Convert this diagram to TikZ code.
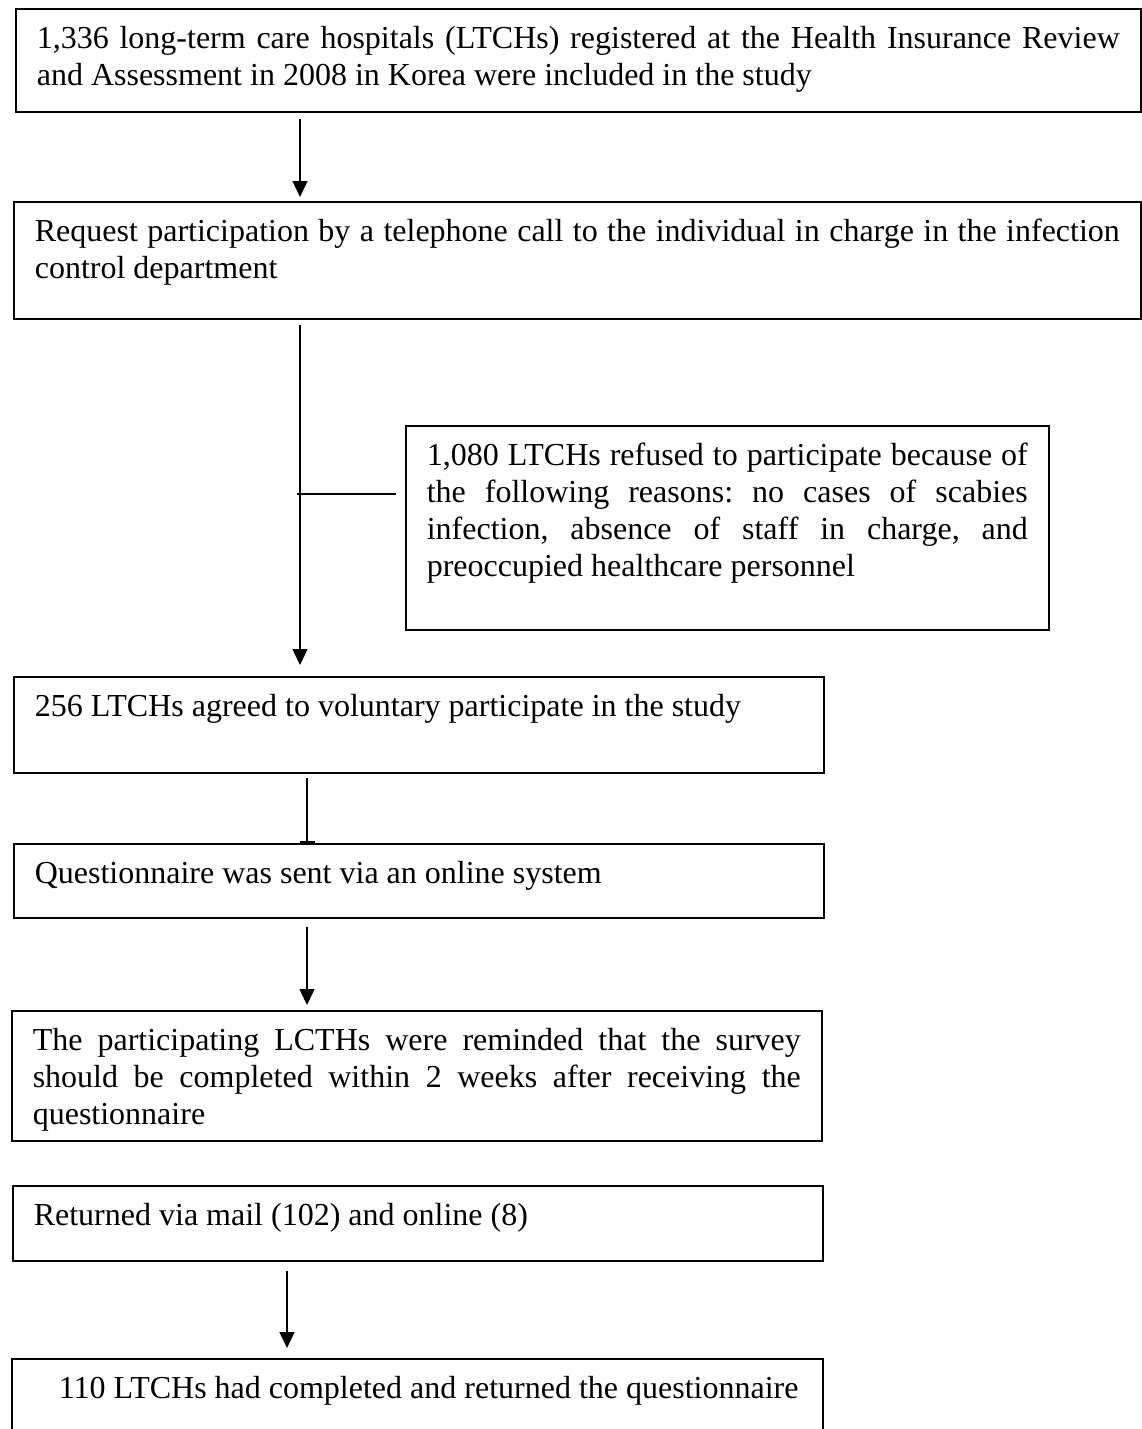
\documentclass[tikz,border=0pt]{standalone}
\usepackage{fontspec}
\setmainfont{Liberation Serif}
\usetikzlibrary{arrows.meta,positioning}

\begin{document}
\frenchspacing
\begin{tikzpicture}[x=1pt,y=-1pt,
  font=\fontsize{32}{37}\selectfont,>={Triangle[width=15pt,length=16pt]},
  stage/.style={draw,line width=1.6pt,anchor=north west,inner xsep=21pt,inner ysep=0pt,align=justify,text height=40pt},
  flow/.style={->,line width=1.4pt},
  link/.style={line width=1.4pt}
]
\clip (0,0) rectangle (1142,1429);

% ---- boxes ----
\node[stage,text width=1083pt,text depth=63pt] (hosp) at (15,8)
  {1,336 long-term care hospitals (LTCHs) registered at the Health Insurance Review\linebreak
   and Assessment in 2008 in Korea were included in the study};
\node[stage,text width=1085pt,text depth=77pt] (call) at (13,201)
  {Request participation by a telephone call to the individual in charge in the infection\linebreak
   control department};
\node[stage,text width=601pt,text depth=164pt] (refuse) at (405,425)
  {1,080 LTCHs refused to participate because of\linebreak
   the following reasons: no cases of scabies\linebreak
   infection, absence of staff in charge, and\linebreak
   preoccupied healthcare personnel};
\node[stage,text width=768pt,text depth=56pt] (agree) at (13,676)
  {256 LTCHs agreed to voluntary participate in the study};
\node[stage,text width=768pt,text depth=34pt] (sent) at (13,843)
  {Questionnaire was sent via an online system};
\node[stage,text width=768pt,text depth=90pt] (remind) at (11,1010)
  {The participating LCTHs were reminded that the survey\linebreak
   should be completed within 2 weeks after receiving the\linebreak
   questionnaire};
\node[stage,text width=768pt,text depth=35pt] (ret) at (12,1185)
  {Returned via mail (102) and online (8)};
\node[stage,text width=769pt,text depth=100pt] (done) at (11,1358)
  {\hspace*{26pt}110 LTCHs had completed and returned the questionnaire};

% ---- arrow columns ----
\coordinate (colA) at (300,0);
\coordinate (colB) at (307,0);
\coordinate (colC) at (287,0);
\coordinate (split) at (297,494);

% ---- connectors ----
\draw[flow,shorten <=6pt,shorten >=4pt] (hosp.south -| colA) -- (call.north -| colA);
\draw[flow,shorten <=5pt,shorten >=11pt] (call.south -| colA) -- (agree.north -| colA);
\draw[link,shorten >=9pt] (split) -- (refuse.west |- split);
\draw[link,-{Rectangle[width=15pt,length=2.5pt]},shorten <=4pt] (agree.south -| colB) -- (sent.north -| colB);
\draw[flow,shorten <=8pt,shorten >=5pt] (sent.south -| colB) -- (remind.north -| colB);
\draw[flow,shorten <=9pt,shorten >=10pt] (ret.south -| colC) -- (done.north -| colC);
\end{tikzpicture}
\end{document}
